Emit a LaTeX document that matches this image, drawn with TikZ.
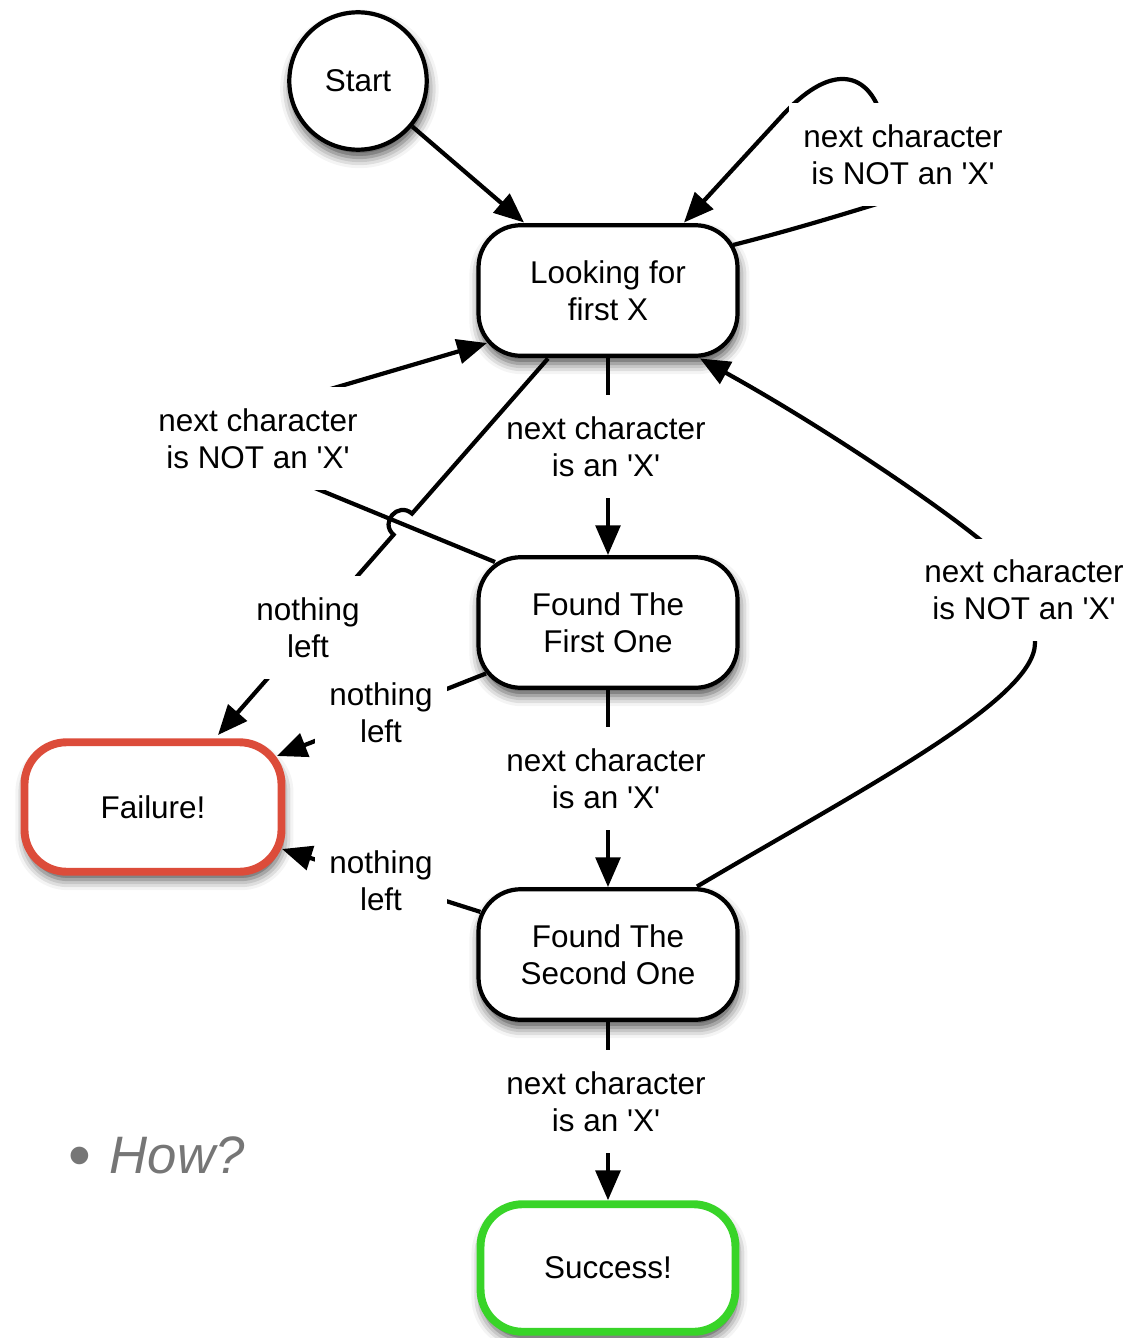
\documentclass[tikz,border=0pt]{standalone}
\usepackage{fontspec}
\newfontfamily\lsans{Liberation Sans}
\usetikzlibrary{arrows.meta,calc,shadows.blur}

\definecolor{failred}{RGB}{220,76,58}
\definecolor{okgreen}{RGB}{56,212,40}
\definecolor{howgray}{RGB}{118,118,118}

\begin{document}
\begin{tikzpicture}[x=0.02cm,y=-0.02cm,
  every node/.style={font=\lsans\fontsize{17.9pt}{21pt}\selectfont, align=center},
  softshadow/.style={blur shadow={shadow xshift=0.8pt,shadow yshift=-4.5pt,shadow blur radius=6pt,shadow opacity=70}},
  state/.style={draw, line width=2.4pt, rounded corners=24pt, fill=white,
    minimum width=147.4pt, minimum height=74.3pt, inner sep=0pt, softshadow},
  circstate/.style={circle, draw, line width=2.4pt, fill=white,
    minimum size=78.2pt, inner sep=0pt, softshadow},
  endstate/.style={state, line width=4.5pt},
  conn/.style={line width=2.4pt, -{Triangle[length=17pt,width=14pt]}},
  lbl/.style={fill=white, inner xsep=8pt, inner ysep=12pt}
]
\useasboundingbox (0,0) rectangle (1143,1338);

% states
\node[circstate] (start) at (358,81) {Start};
\node[state] (look) at (608,290.5) {Looking for\\first X};
\node[state] (f1) at (608,622.5) {Found The\\First One};
\node[state] (f2) at (608,954.5) {Found The\\Second One};
\node[endstate, draw=failred, minimum width=146.3pt, minimum height=73.7pt] (fail) at (153,807) {Failure!};
\node[endstate, draw=okgreen, minimum width=145.1pt, minimum height=72.6pt] (succ) at (608,1268) {Success!};

% connector end points on the rounded borders
\coordinate (e1b) at ($(look)+(-84,-68)$);
\coordinate (e2a) at ($(look)+(125,-45.5)$);
\coordinate (e2b) at ($(look)+(76,-68)$);
\coordinate (e4a) at ($(f1)+(-113,-60.5)$);
\coordinate (e4b) at ($(look)+(-121,52.5)$);
\coordinate (e5a) at ($(look)+(-60,68)$);
\coordinate (e5b) at ($(fail)+(65,-72)$);
\coordinate (e6a) at ($(f1)+(-122,51)$);
\coordinate (e6b) at ($(fail)+(124,-51)$);
\coordinate (e7a) at ($(f2)+(-127.6,-42.6)$);
\coordinate (e7b) at ($(fail)+(129,42)$);
\coordinate (e9a) at ($(f2)+(89,-68)$);
\coordinate (e9b) at ($(look)+(92,68)$);

% bends hidden behind the labels
\coordinate (l1) at (890,200);
\coordinate (l2) at (880,112);
\coordinate (l3) at (780,118);
\coordinate (c4) at (181,433);
\coordinate (m9) at (1035,643);
\coordinate (n9) at (978,538);

% line jump where the two left connectors cross
\coordinate (h1) at ($(e5a)!0.412!(e5b)$);
\coordinate (h2) at ($(e5a)!0.468!(e5b)$);
\coordinate (h1c) at ($(h1)!0.374cm!-90:(e5b)$);
\coordinate (h2c) at ($(h2)!0.374cm!90:(e5a)$);

% connectors, each followed by its label
\draw[conn] (start.-40) -- (e1b);

\draw[conn] (e2a) .. controls (800,228) and (850,212) .. (l1)
  .. controls (920,189) and (891,140) .. (l2)
  .. controls (866,72) and (830,62) .. (l3) -- (e2b);
\node[lbl] (lab1) at (903,154.5) {next character\\is NOT an 'X'};

\draw[conn] (look.south) -- (f1.north);
\node[lbl] (lab2) at (606,446.5) {next character\\is an 'X'};

\draw[conn] (e4a) -- (c4) -- (e4b);
\node[lbl] (lab3) at (258,438.5) {next character\\is NOT an 'X'};

\draw[conn] (e5a) -- (h1) .. controls (h1c) and (h2c) .. (h2) -- (e5b);
\node[lbl] (lab4) at (308,627.5) {nothing\\left};

\draw[conn] (e6a) -- (e6b);
\node[lbl] (lab5) at (381,712.5) {nothing\\left};

\draw[conn] (e7a) -- (e7b);
\node[lbl] (lab6) at (381,880.5) {nothing\\left};

\draw[conn] (e9a) .. controls (860,790) and (1035,700) .. (m9)
  .. controls (1037,610) and (1018,570) .. (n9)
  .. controls (928,498) and (820,425) .. (e9b);
\node[lbl] (lab7) at (1024,590) {next character\\is NOT an 'X'};

\draw[conn] (f1.south) -- (f2.north);
\node[lbl] (lab8) at (606,778.5) {next character\\is an 'X'};

\draw[conn] (f2.south) -- (succ.north);
\node[lbl] (lab9) at (606,1101.5) {next character\\is an 'X'};

% bullet line
\node[font=\lsans\fontsize{30pt}{36pt}\selectfont, text=howgray, anchor=west] (how) at (62,1157)
  {\raisebox{-2pt}{\fontsize{37pt}{36pt}\selectfont •}\hspace{0.36em}\textit{How?}};
\end{tikzpicture}
\end{document}
